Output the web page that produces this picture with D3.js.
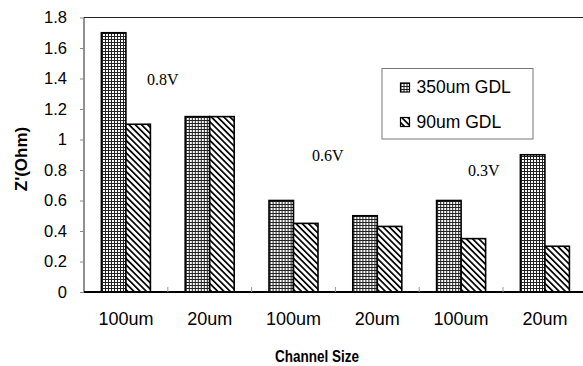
<!DOCTYPE html>
<html>
<head>
<meta charset="utf-8">
<script src="https://cdn.jsdelivr.net/npm/d3@7"></script>
<style>
  html, body { margin: 0; padding: 0; background: #fff; }
  svg { display: block; }
</style>
</head>
<body>
<svg id="chart" width="583" height="366"></svg>
<script>
// Channel size groups along the x axis
const categories = ["100um", "20um", "100um", "20um", "100um", "20um"];
// Series names and their Z' values (Ohm)
const seriesNames = ["350um GDL", "90um GDL"];
const gdl350 = [1.7, 1.15, 0.6, 0.5, 0.6, 0.9];
const gdl90 = [1.1, 1.15, 0.45, 0.43, 0.35, 0.3];
// Y axis ticks
const yTicks = [0, 0.2, 0.4, 0.6, 0.8, 1, 1.2, 1.4, 1.6, 1.8];
// Voltage annotations: text, position along the category axis, value
const voltLabels = ["0.8V", "0.6V", "0.3V"];
const voltPos = [0.94, 2.91, 4.77];
const voltVal = [1.36, 0.86, 0.76];

(function () {
const svg = d3.select("#chart");
const mLeft = 84, mTop = 17.5, mBottom = 292, step = 83.8;
const mRight = mLeft + step * categories.length;
const sans = "Liberation Sans, Arial, sans-serif";

const x0 = d3.scaleBand().domain(d3.range(categories.length)).range([mLeft, mRight]).padding(0);
const x1 = d3.scaleBand().domain(seriesNames).range([0, x0.bandwidth()]).paddingInner(0).paddingOuter(0.71);
const xPos = d3.scaleLinear().domain([0, categories.length]).range([mLeft, mRight]);
const y = d3.scaleLinear().domain([0, 1.8]).range([mBottom, mTop]);

// Fill patterns: fine grid and backslash hatch
const defs = svg.append("defs");
const grid = defs.append("pattern").attr("id", "gridPat").attr("patternUnits", "userSpaceOnUse")
  .attr("width", 3).attr("height", 3);
grid.append("rect").attr("width", 3).attr("height", 3).attr("fill", "#fff");
grid.append("rect").attr("x", 0).attr("y", 0).attr("width", 1).attr("height", 3).attr("fill", "#222");
grid.append("rect").attr("x", 0).attr("y", 0).attr("width", 3).attr("height", 1).attr("fill", "#222");

const hatch = defs.append("pattern").attr("id", "hatchPat").attr("patternUnits", "userSpaceOnUse")
  .attr("width", 4.4).attr("height", 4.4).attr("patternTransform", "rotate(-45)");
hatch.append("rect").attr("width", 4.4).attr("height", 4.4).attr("fill", "#fff");
hatch.append("rect").attr("x", 0).attr("y", 0).attr("width", 1.7).attr("height", 4.4).attr("fill", "#000");

const fills = { "350um GDL": "url(#gridPat)", "90um GDL": "url(#hatchPat)" };

// Plot frame (top and left)
svg.append("line").attr("x1", mLeft).attr("x2", 583).attr("y1", mTop).attr("y2", mTop)
  .attr("stroke", "#222").attr("stroke-width", 1);
svg.append("line").attr("x1", mLeft).attr("x2", mLeft).attr("y1", mTop).attr("y2", mBottom)
  .attr("stroke", "#222").attr("stroke-width", 1);

// Bars
const rows = categories.map((c, i) => ({ i, values: [gdl350[i], gdl90[i]] }));
const groups = svg.append("g").selectAll("g").data(rows).join("g")
  .attr("transform", d => `translate(${x0(d.i)},0)`);
groups.selectAll("rect").data(d => d.values.map((v, k) => ({ key: seriesNames[k], v })))
  .join("rect")
  .attr("x", d => x1(d.key))
  .attr("width", x1.bandwidth())
  .attr("y", d => y(d.v))
  .attr("height", d => y(0) - y(d.v))
  .attr("fill", d => fills[d.key])
  .attr("stroke", "#000")
  .attr("stroke-width", 1.6);

// Y axis
const yAxis = d3.axisLeft(y).tickValues(yTicks).tickSize(4).tickPadding(13)
  .tickFormat(d => d3.format("")(+d.toFixed(1)));
const gy = svg.append("g").attr("transform", `translate(${mLeft},0)`).call(yAxis);
gy.select(".domain").remove();
gy.selectAll("line").attr("stroke", "#888");
gy.selectAll("text").attr("font-family", sans)
  .attr("font-size", 16.5).attr("fill", "#000");

// X axis with inward ticks at category boundaries
svg.append("line").attr("x1", mLeft).attr("x2", 583).attr("y1", mBottom).attr("y2", mBottom)
  .attr("stroke", "#000").attr("stroke-width", 2);
svg.append("g").selectAll("line").data(d3.range(1, categories.length)).join("line")
  .attr("x1", d => xPos(d)).attr("x2", d => xPos(d))
  .attr("y1", mBottom).attr("y2", mBottom - 5)
  .attr("stroke", "#999");
svg.append("g").selectAll("text").data(categories).join("text")
  .attr("x", (d, i) => x0(i) + x0.bandwidth() / 2)
  .attr("y", 325)
  .attr("text-anchor", "middle")
  .attr("font-family", sans)
  .attr("font-size", 18)
  .text(d => d);

// Axis titles
svg.append("text").attr("transform", "translate(317,362) scale(1,1.2)").attr("text-anchor", "middle")
  .attr("font-family", sans).attr("font-weight", "bold")
  .attr("font-size", 13.5).text("Channel Size");
svg.append("text").attr("transform", "translate(27,159) rotate(-90)").attr("text-anchor", "middle")
  .attr("font-family", sans).attr("font-weight", "bold")
  .attr("font-size", 17).text("Z'(Ohm)");

// Voltage annotations
svg.append("g").selectAll("text").data(voltLabels).join("text")
  .attr("x", (d, i) => xPos(voltPos[i]))
  .attr("y", (d, i) => y(voltVal[i]))
  .attr("text-anchor", "middle")
  .attr("font-family", "Liberation Serif, Times New Roman, serif")
  .attr("font-size", 16)
  .text(d => d);

// Legend
const legend = svg.append("g").attr("transform", "translate(382,68.5)");
legend.append("rect").attr("width", 151).attr("height", 70.5)
  .attr("fill", "#fff").attr("stroke", "#777").attr("stroke-width", 1);
const items = legend.selectAll("g").data(seriesNames).join("g")
  .attr("transform", (d, i) => `translate(18.5,${14.5 + i * 34.5})`);
items.append("rect").attr("width", 9).attr("height", 9)
  .attr("fill", d => fills[d]).attr("stroke", "#000").attr("stroke-width", 1.2);
items.append("text").attr("x", 16).attr("y", 10)
  .attr("font-family", sans).attr("font-size", 17.5)
  .text(d => d);
})();
</script>
</body>
</html>
